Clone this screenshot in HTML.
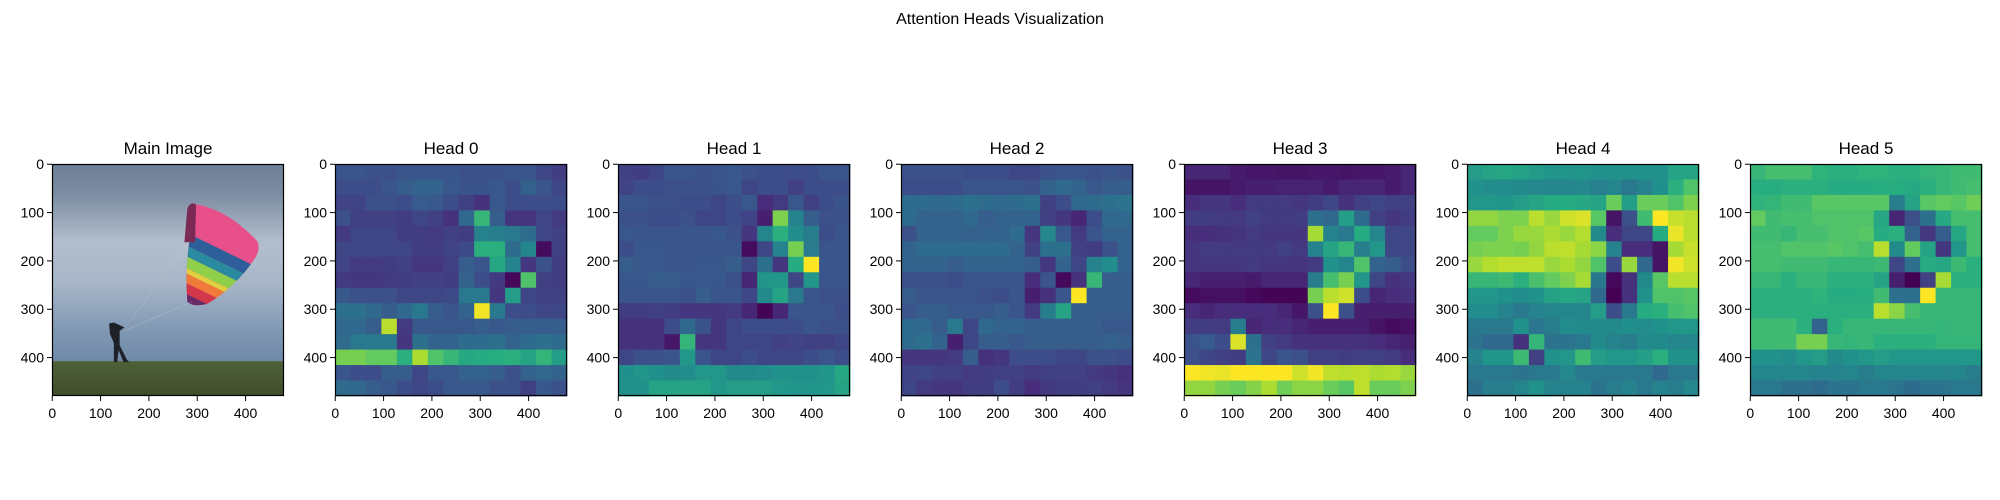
<!DOCTYPE html>
<html><head><meta charset="utf-8"><style>
html,body{margin:0;padding:0;background:#fff;width:2000px;height:500px;overflow:hidden}
svg text{font-family:"Liberation Sans","DejaVu Sans",sans-serif;fill:#000}
</style></head><body>
<svg id="fig" xmlns="http://www.w3.org/2000/svg" width="2000" height="500" viewBox="0 0 2000 500">
<text x="1000" y="24" font-size="16" text-anchor="middle">Attention Heads Visualization</text>
<defs>
<linearGradient id="sky" x1="0" y1="0" x2="0" y2="1">
<stop offset="0" stop-color="#6f7e94"/><stop offset="0.15" stop-color="#7d8ca2"/><stop offset="0.4" stop-color="#b3bfcd"/><stop offset="0.6" stop-color="#a7b6c8"/><stop offset="0.85" stop-color="#7f97b3"/><stop offset="1" stop-color="#6f89a8"/>
</linearGradient>
<linearGradient id="grass" x1="0" y1="0" x2="0" y2="1"><stop offset="0" stop-color="#4f6138"/><stop offset="1" stop-color="#3f4d2a"/></linearGradient>
<clipPath id="chute"><path d="M288 82 Q360 90 425 160 Q432 175 420 195 Q380 255 320 290 Q290 296 280 285 Q275 220 285 155 Z"/></clipPath>
</defs>
<g id="main-panel" transform="translate(52,164) scale(0.48333)">
<rect x="0" y="0" width="480" height="410" fill="url(#sky)"/>
<rect x="0" y="408" width="480" height="72" fill="url(#grass)"/>
<g clip-path="url(#chute)">
<rect x="270" y="60" width="180" height="260" fill="#e8508a"/>
<g transform="rotate(26 290 150)">
<rect x="230" y="148" width="260" height="24" fill="#2f5f9a"/>
<rect x="230" y="172" width="260" height="20" fill="#2a8aa0"/>
<rect x="230" y="192" width="260" height="22" fill="#8fcf4a"/>
<rect x="230" y="214" width="260" height="10" fill="#e0d040"/>
<rect x="230" y="224" width="260" height="18" fill="#ef7a3a"/>
<rect x="230" y="242" width="260" height="20" fill="#d2384a"/>
<rect x="230" y="262" width="260" height="60" fill="#6a2a6a"/>
</g>
</g>
<path d="M274 162 L280 92 Q288 76 298 84 L296 162 Z" fill="#7a2a55"/>
<g stroke="#c8ccd4" stroke-width="1" opacity="0.6"><line x1="150" y1="340" x2="285" y2="160"/><line x1="150" y1="345" x2="290" y2="285"/></g>
<path d="M118 330 L128 328 L150 338 L140 345 L140 375 L155 405 L160 410 L148 410 L138 385 L135 410 L128 410 L128 370 L120 352 Z" fill="#1e2228"/>
</g>
<g id="heads"></g>
</svg>
<script>
const headNames = ["Head 0","Head 1","Head 2","Head 3","Head 4","Head 5"];
const tickValues = [0,100,200,300,400];
const head0 = [
[2.5,2.5,2.3,2.3,2.5,2.5,2.5,2.5,2.3,2.3,2.3,2.5,2.5,2.0,1.7],
[2.2,2.2,2.2,2.5,2.8,3.0,3.0,2.6,2.4,2.4,2.6,2.2,2.9,2.5,2.0],
[1.9,1.9,2.3,2.3,2.2,2.7,2.6,2.2,1.8,1.3,2.6,2.2,2.2,2.2,2.2],
[2.3,1.8,1.8,1.8,1.7,2.0,1.8,1.3,3.2,6.3,2.8,1.4,1.4,2.0,1.6],
[1.6,2.0,2.0,2.0,1.7,1.7,1.6,1.8,1.7,4.2,4.0,3.8,3.3,2.0,1.8],
[2.0,2.0,2.0,2.0,2.0,1.7,1.7,1.9,2.1,6.0,6.0,3.3,4.3,0.3,1.8],
[1.9,1.6,1.6,1.7,1.8,1.5,1.5,1.8,2.8,2.5,5.6,4.2,1.5,2.4,1.7],
[1.6,1.5,1.5,1.6,1.7,1.8,1.8,1.7,3.0,2.2,1.6,0.2,6.8,1.8,1.7],
[2.6,2.3,2.3,2.3,2.0,2.0,2.0,2.1,3.8,3.8,1.5,5.2,2.0,1.8,1.8],
[3.5,3.5,3.2,2.8,3.2,3.8,2.8,2.5,3.0,9.3,3.8,2.2,2.2,2.0,2.0],
[3.2,3.2,2.8,8.5,1.6,2.6,2.6,2.6,2.6,2.8,2.6,2.8,2.8,2.8,2.8],
[3.3,3.8,3.8,3.8,1.5,3.5,3.0,3.0,3.3,3.3,3.5,3.0,3.3,3.5,3.3],
[7.5,7.5,7.2,7.2,6.0,8.3,6.8,6.3,5.7,5.8,5.9,6.0,5.5,6.2,5.3],
[2.5,2.2,2.2,2.8,2.8,2.0,2.6,2.6,3.0,3.0,2.8,2.3,3.0,3.2,3.0],
[3.3,3.2,2.8,2.6,2.2,2.0,2.2,2.6,2.6,2.6,2.3,2.3,1.8,2.6,2.3]];
const head1 = [
[1.8,1.7,2.0,2.5,2.5,2.3,2.5,2.6,2.3,2.2,2.2,2.2,2.2,2.5,2.5],
[1.9,2.2,2.2,2.3,2.3,2.3,2.4,2.6,2.0,2.2,2.2,1.8,2.2,2.2,2.2],
[2.5,2.5,2.3,2.3,2.2,2.2,2.0,2.2,2.6,1.2,1.6,2.6,1.8,2.2,2.4],
[2.3,2.3,2.2,2.2,2.3,2.0,2.0,2.2,1.9,0.8,7.6,4.2,2.8,2.3,2.3],
[2.6,2.5,2.5,2.5,2.5,2.5,2.6,2.3,1.5,4.3,6.0,4.6,4.0,2.2,2.5],
[2.2,2.6,2.6,2.5,2.5,2.5,2.5,2.5,0.3,2.0,4.2,7.5,3.9,2.5,2.5],
[2.8,2.6,2.6,2.5,2.5,2.6,2.6,2.8,2.0,3.5,1.5,5.8,9.5,2.5,2.5],
[2.6,2.6,2.8,2.8,2.6,2.6,2.6,2.3,1.0,5.0,5.0,2.0,5.0,2.5,2.5],
[2.5,2.5,2.5,2.5,2.3,2.8,2.5,2.5,2.0,4.5,5.5,3.8,2.5,2.3,2.3],
[1.7,1.7,1.8,1.7,1.5,1.5,1.5,1.6,1.0,0.1,1.0,2.5,2.5,2.5,2.2],
[1.3,1.3,1.3,2.2,3.2,2.4,1.5,2.0,2.2,2.2,2.2,2.2,2.5,2.3,2.3],
[1.3,1.3,1.3,0.6,6.2,1.4,1.5,2.0,2.0,2.0,1.8,1.9,1.8,1.8,2.0],
[2.0,2.3,2.3,2.5,5.0,2.5,2.0,2.0,2.2,2.0,2.0,2.0,2.2,2.5,2.2],
[4.7,4.9,4.7,4.5,4.6,5.0,5.0,4.5,4.5,4.6,4.8,4.8,4.8,4.9,5.6],
[4.8,4.8,5.5,5.5,5.5,5.5,5.0,5.2,5.2,5.2,5.0,4.9,4.9,5.0,5.5]];
const head2 = [
[2.3,2.3,2.3,2.3,2.2,2.2,2.2,2.0,2.0,2.3,2.5,2.5,2.3,2.5,2.3],
[2.2,2.2,2.2,2.2,2.5,2.5,2.5,2.5,2.3,3.0,3.2,3.0,2.6,2.8,2.8],
[3.3,3.3,3.2,3.3,3.5,3.3,3.2,3.3,3.5,1.8,2.2,3.2,3.3,3.5,3.6],
[3.3,3.0,3.0,3.0,3.2,2.8,3.0,3.0,3.0,1.8,1.5,1.0,2.2,3.2,3.2],
[2.3,3.0,3.0,3.0,2.9,3.0,3.0,3.3,1.5,4.4,2.6,1.6,2.5,3.0,3.0],
[3.0,3.3,3.3,3.3,3.3,3.3,3.3,3.0,1.8,3.5,3.5,1.8,1.7,2.3,3.0],
[3.0,3.0,3.0,2.8,3.0,3.0,3.0,3.0,2.8,1.5,3.0,2.0,4.2,4.6,3.0],
[2.3,2.3,2.3,2.2,2.5,2.5,2.5,2.5,1.2,2.5,0.2,1.3,6.3,2.8,2.8],
[2.8,2.5,2.5,2.5,2.5,2.3,2.2,2.5,0.8,1.3,2.5,9.5,2.8,2.8,2.8],
[2.5,2.8,2.8,2.6,2.6,2.6,2.8,2.5,1.6,4.0,5.5,2.8,2.8,2.8,2.8],
[3.3,3.2,2.8,3.8,2.0,3.2,3.0,3.0,2.8,2.8,2.8,2.8,2.8,2.6,2.6],
[3.3,3.5,3.0,0.8,2.0,2.8,2.8,2.6,2.8,2.8,2.8,2.8,2.8,2.9,2.8],
[1.5,1.5,1.5,1.6,2.8,1.3,1.5,2.2,2.2,2.2,2.0,2.0,2.3,2.3,2.2],
[1.9,2.0,1.8,1.8,1.6,1.7,1.8,1.8,1.6,1.8,1.8,1.8,1.6,1.5,1.3],
[2.0,1.6,1.5,1.4,1.7,1.7,2.2,1.7,1.2,1.6,1.7,1.7,1.8,1.6,1.4]];
const head3 = [
[1.0,1.0,1.0,0.7,0.6,0.6,0.5,0.5,0.6,0.6,0.5,0.6,0.6,0.7,1.0],
[0.5,0.5,0.5,0.7,0.8,0.8,0.9,0.9,0.9,0.7,1.0,1.0,1.0,0.7,1.0],
[1.2,1.4,1.5,1.2,1.6,1.6,1.6,1.5,1.7,2.0,1.3,1.8,2.0,1.8,1.8],
[1.7,1.7,1.6,1.6,1.8,1.6,1.6,1.7,3.5,3.2,5.3,3.3,1.8,1.5,1.7],
[1.2,1.2,1.3,1.4,1.6,1.5,1.5,1.5,8.2,4.2,3.8,5.8,4.3,2.0,2.0],
[1.4,1.6,1.6,1.6,1.6,1.6,1.8,1.6,4.2,5.5,6.3,4.0,5.0,2.0,2.0],
[1.4,1.5,1.5,1.5,1.6,1.5,1.5,1.4,1.6,4.8,4.3,6.8,3.0,2.8,2.2],
[1.0,0.8,0.8,0.8,0.7,1.0,1.0,1.0,4.0,6.6,7.5,5.0,2.0,1.3,1.5],
[0.3,0.4,0.4,0.4,0.2,0.1,0.1,0.1,7.5,8.5,8.8,2.2,1.0,1.2,1.3],
[1.2,1.0,1.2,1.2,1.2,1.2,1.0,0.6,2.3,9.5,2.3,0.8,0.8,0.8,0.8],
[1.7,1.7,1.6,4.0,1.0,1.2,1.2,1.0,0.8,0.8,0.8,0.8,0.5,0.3,0.4],
[2.4,2.7,2.2,9.0,3.5,1.8,1.6,1.3,1.3,1.3,1.3,1.3,1.2,1.0,0.8],
[2.3,2.0,1.8,1.7,3.6,2.0,2.5,2.3,1.8,1.8,1.7,1.8,1.8,1.6,1.2],
[9.5,9.3,9.2,9.6,9.8,9.7,9.7,8.8,9.3,8.6,8.5,8.6,8.3,8.4,8.0],
[7.9,7.9,7.5,7.3,7.7,8.3,7.4,7.8,7.8,7.3,7.0,8.6,7.3,7.3,7.6]];
const head4 = [
[5.2,5.5,5.6,5.4,5.1,4.9,4.9,4.9,4.8,4.8,4.8,4.8,4.8,5.5,5.5],
[4.8,4.6,4.6,4.5,4.4,4.3,4.3,4.4,4.1,4.3,3.8,4.2,4.7,6.0,6.8],
[5.0,5.0,4.9,5.2,5.5,5.8,5.8,5.7,5.5,7.3,5.3,7.3,7.3,6.8,7.6],
[7.9,7.9,7.6,7.6,8.5,8.0,8.8,9.0,7.0,0.5,2.3,6.5,9.6,8.7,8.5],
[7.2,7.2,7.6,8.0,8.0,8.3,8.0,8.4,4.5,1.2,2.0,2.0,5.8,9.2,8.5],
[7.5,7.6,7.6,7.5,7.9,8.5,8.6,8.2,7.8,4.2,1.2,1.2,0.5,8.2,8.7],
[8.0,8.4,8.6,8.6,8.6,8.0,8.3,7.9,6.8,2.2,8.0,3.2,0.5,9.3,8.8],
[6.3,6.3,6.4,6.0,6.7,7.2,7.6,8.2,3.8,0.2,1.3,4.5,7.0,8.5,8.5],
[5.0,5.0,4.8,4.6,4.8,5.4,5.6,5.5,3.2,0.0,1.3,4.8,6.8,6.8,7.0],
[4.6,4.6,4.2,3.8,4.2,4.3,4.3,4.3,5.2,2.2,3.8,5.8,6.0,6.6,6.8],
[3.8,3.8,3.8,4.8,3.7,4.0,4.6,4.5,4.5,4.5,4.7,4.6,4.8,5.0,5.0],
[3.6,3.2,3.2,1.3,6.2,3.6,3.6,3.8,4.5,4.2,4.0,4.5,4.5,4.3,4.3],
[4.2,4.9,4.9,6.4,1.8,4.8,5.0,6.5,5.2,5.0,5.0,5.3,6.0,4.8,4.8],
[3.8,3.8,3.8,3.6,3.8,3.8,4.4,3.8,3.8,3.8,3.8,3.8,3.2,3.8,3.8],
[3.5,4.0,4.0,4.3,4.8,4.2,4.2,4.2,3.6,4.0,4.2,3.8,4.2,4.0,4.4]];
const head5 = [
[6.3,6.6,6.6,6.6,6.1,6.0,6.0,6.1,6.1,6.0,6.0,6.2,6.3,6.5,6.5],
[5.9,5.9,6.0,6.0,6.0,5.8,5.8,5.8,5.9,5.9,5.7,6.0,6.3,6.5,6.6],
[6.1,6.2,6.5,6.5,7.0,7.0,7.0,7.0,7.0,4.0,5.5,7.0,7.2,7.0,7.4],
[7.2,6.5,6.6,6.6,6.8,6.8,6.8,6.8,5.6,1.0,2.3,3.5,5.7,6.6,6.6],
[6.5,6.5,6.3,6.6,6.6,6.8,6.8,7.0,5.8,6.0,3.0,1.5,2.8,5.6,6.6],
[6.6,6.6,6.8,6.8,6.8,7.0,6.8,6.6,8.5,4.5,7.2,5.5,1.5,5.0,6.6],
[6.6,6.6,6.5,6.5,6.5,6.3,6.3,6.3,6.4,2.0,3.5,5.8,5.6,6.4,6.0],
[6.3,6.3,6.0,6.3,6.3,6.0,6.0,6.0,5.5,0.8,0.0,1.8,8.2,6.0,6.0],
[6.0,6.0,6.0,6.0,6.1,5.8,5.8,5.9,6.5,3.5,3.5,9.5,6.3,6.3,6.3],
[6.0,6.0,6.0,6.0,6.0,6.0,6.0,6.0,8.5,7.8,6.6,6.3,6.3,6.3,6.3],
[6.5,6.5,6.5,6.0,3.0,6.0,6.3,6.3,6.3,6.3,6.3,6.3,6.2,6.3,6.3],
[6.5,6.5,6.5,7.5,7.5,6.3,6.2,6.3,6.0,6.0,6.0,6.0,6.2,6.2,6.2],
[4.8,4.8,4.6,5.0,5.2,4.5,4.8,5.0,5.2,5.0,5.0,5.0,5.0,5.0,5.0],
[4.3,4.3,4.3,4.3,4.2,4.2,4.3,4.0,4.3,4.3,4.3,4.3,4.3,4.3,4.0],
[3.8,3.8,3.5,3.5,3.3,3.6,3.6,3.8,3.8,3.6,3.3,3.6,3.6,3.8,3.8]];
const heads = [head0,head1,head2,head3,head4,head5];

const NS = "http://www.w3.org/2000/svg";
const VIR = [[68,1,84],[71,45,123],[59,82,139],[44,114,142],[33,145,140],[40,174,128],[94,201,98],[173,220,48],[253,231,37]];
function viridis(v){
  let t = Math.max(0, Math.min(1, v/9.5)) * 8;
  let i = Math.min(7, Math.floor(t)), f = t - i;
  const a = VIR[i], b = VIR[i+1];
  return "rgb(" + a.map((c,k)=>Math.round(c + (b[k]-c)*f)).join(",") + ")";
}
const AX = 232, TOP = 164;
const panelLefts = [52,335,618,901,1184,1467,1750];
function xScale(left, d){ return left + (d + 0.5) * AX / 480; }
function yScale(d){ return TOP + (d + 0.5) * AX / 480; }
const fig = document.getElementById("fig");
function mk(tag, attrs, parent){
  const e = document.createElementNS(NS, tag);
  for (const k in attrs) e.setAttribute(k, attrs[k]);
  (parent || fig).appendChild(e);
  return e;
}
function drawAxes(left, title, idx){
  const g = mk("g", {});
  
  
  const t = mk("text", {x: left + AX/2, y: 154, "font-size": 17, "text-anchor": "middle"}, g);
  
  
  t.textContent = title;
  const fr = mk("rect", {x: left + 0.5, y: TOP + 0.5, width: AX - 1, height: AX - 1, fill: "none", stroke: "#000", "stroke-width": 1.2}, g);
  
  
  tickValues.forEach(v => {
    const x = xScale(left, v), y = yScale(v);
    const xt = mk("line", {x1: x, y1: TOP + AX, x2: x, y2: TOP + AX + 5, stroke: "#000", "stroke-width": 1}, g);
    
    
    const xl = mk("text", {x: x, y: TOP + AX + 22, "font-size": 14, "text-anchor": "middle"}, g);
    
    
    xl.textContent = v;
    const yt = mk("line", {x1: left - 5, y1: y, x2: left, y2: y, stroke: "#000", "stroke-width": 1}, g);
    
    
    const yl = mk("text", {x: left - 8, y: y + 5, "font-size": 14, "text-anchor": "end"}, g);
    
    
    yl.textContent = v;
  });
}
drawAxes(panelLefts[0], "Main Image", "main");
heads.forEach((grid, h) => {
  const left = panelLefts[h + 1];
  const n = grid.length, cell = AX / n;
  const g = mk("g", {});
  
  
  grid.forEach((row, r) => row.forEach((v, c) => {
    const rc = mk("rect", {x: left + c*cell, y: TOP + r*cell, width: cell + 0.4, height: cell + 0.4, fill: viridis(v)}, g);
    
    
  }));
  drawAxes(left, headNames[h], h);
});
</script>
</body></html>
